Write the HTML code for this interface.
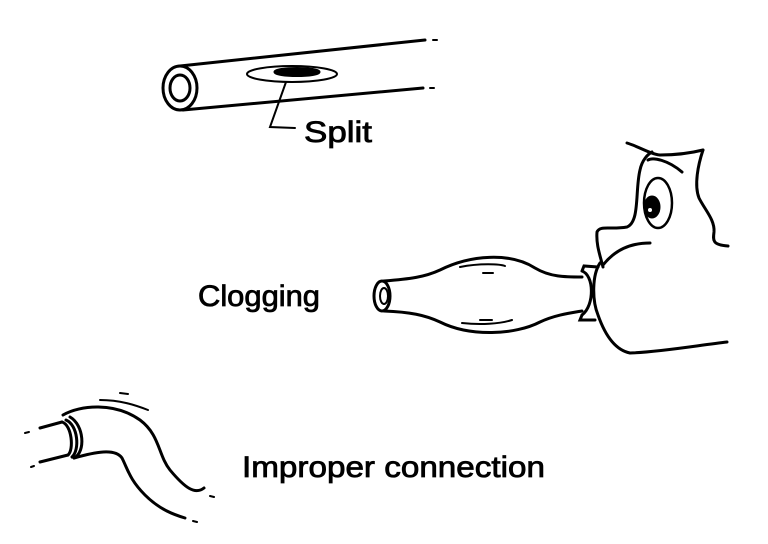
<!DOCTYPE html>
<html><head><style>html,body{margin:0;padding:0;background:#fff}svg{display:block}</style></head>
<body>
<svg width="768" height="544" viewBox="0 0 768 544" xmlns="http://www.w3.org/2000/svg" fill="none" stroke="#000" stroke-width="3" stroke-linecap="round">
<!-- top tube -->
<ellipse cx="180" cy="88" rx="17" ry="22"/>
<ellipse cx="180" cy="88" rx="10" ry="13"/>
<path d="M180 66 L425 40"/>
<path d="M183 110 L423 88"/>
<path d="M433 40 L437 40 M430 88 L434 88" stroke-width="2"/>
<ellipse cx="292" cy="74" rx="45" ry="8" stroke-width="2"/>
<ellipse cx="297" cy="72" rx="22" ry="3.5" fill="#000"/>
<path d="M286 82 L270 127 L295 128" stroke-width="2"/>
<g stroke="#000" stroke-width="0.8" fill="#000" font-family="Liberation Sans, sans-serif" font-size="30">
<text x="304" y="142" textLength="68" lengthAdjust="spacingAndGlyphs">Split</text>
<text x="198" y="306" textLength="122" lengthAdjust="spacingAndGlyphs">Clogging</text>
<text x="242" y="477" textLength="303" lengthAdjust="spacingAndGlyphs">Improper connection</text>
</g>
<!-- bulb -->
<ellipse cx="382" cy="296" rx="8" ry="15"/>
<ellipse cx="384" cy="296" rx="4" ry="8" stroke-width="2"/>
<path d="M384 281 C410 279 425 277 440 270 C470 255 510 252 535 268 C550 277 565 277 582 277"/>
<path d="M384 311 C410 312 425 315 440 322 C470 337 515 335 540 322 C555 315 570 313 582 311"/>
<path d="M460 267 C480 263 500 264 505 266 M483 273 L493 273 M462 323 C480 325 500 324 512 320 M480 320 L492 320" stroke-width="2"/>
<!-- collar -->
<path d="M582 271 C594 275 595 305 582 315 M582 271 L584 266 L598 267 M582 315 L580 320 L595 320"/>
<!-- face -->
<path d="M603 265 C615 250 630 243 650 243"/>
<path d="M600 263 C592 275 592 300 598 315 C605 335 615 350 630 353 C660 352 700 345 727 342"/>
<path d="M603 267 C600 255 596 245 597 232 C600 225 610 230 627 227 C640 222 635 190 640 170 C642 160 648 154 652 152"/>
<path d="M627 143 C640 147 650 154 660 155 C680 155 695 152 703 150 M648 160 C653 157 668 160 682 172"/>
<path d="M703 150 C698 165 694 185 699 198 C705 210 715 220 714 232 C713 240 712 245 728 246"/>
<ellipse cx="658" cy="203" rx="14" ry="25" stroke-width="2.5"/>
<ellipse cx="652" cy="207" rx="7" ry="10" fill="#000"/>
<circle cx="650" cy="210" r="2" fill="#fff" stroke="none"/>
<!-- bottom connection -->
<path d="M40 428 L62 422 M40 462 L68 455"/>
<path d="M25 433 L29 432 M31 467 L34 466" stroke-width="2"/>
<path d="M62 422 C72 425 74 450 68 455"/>
<path d="M66 420 C78 425 80 450 72 457" />
<path d="M70 417 C84 425 86 452 74 458"/>
<path d="M63 415 C80 405 115 402 140 420 C160 435 158 455 170 470 C185 488 195 495 204 488"/>
<path d="M74 458 C95 452 115 448 122 458 C128 470 130 480 145 495 C160 510 175 515 185 518"/>
<path d="M100 400 C120 400 135 405 148 410 M120 393 L128 394" stroke-width="2"/>
<path d="M210 496 L214 497 M193 521 L197 522" stroke-width="2"/>
</svg>
</body></html>
